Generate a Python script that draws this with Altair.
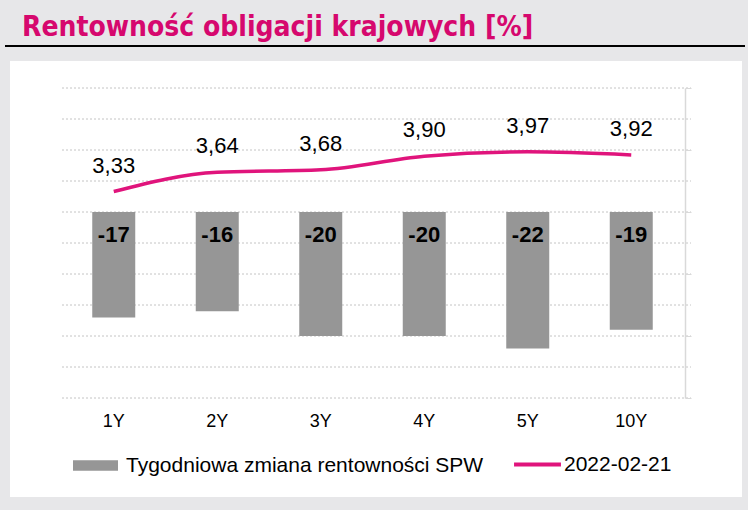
import altair as alt
import pandas as pd

# ---- data ----
categories = ["1Y", "2Y", "3Y", "4Y", "5Y", "10Y"]
weekly_change = [-17, -16, -20, -20, -22, -19]
yields = [3.33, 3.64, 3.68, 3.90, 3.97, 3.92]
bar_series = "Tygodniowa zmiana rentowności SPW"
line_series = "2022-02-21"
title_text = "Rentowność obligacji krajowych [%]"
bar_grid_values = [-30, -25, -20, -15, -10, -5, 0, 5, 10, 15, 20]
line_tick_values = [0, 0.5, 1, 1.5, 2, 2.5, 3, 3.5, 4, 4.5, 5]

df = pd.DataFrame({
    "cat": categories,
    "change": weekly_change,
    "yield": yields,
    "bar_s": [bar_series] * len(categories),
    "line_s": [line_series] * len(categories),
})
grid_df = pd.DataFrame({"g": bar_grid_values})

FONT = "Liberation Sans"
GREY = "#969696"
MAGENTA = "#e0147c"
TITLE_C = "#d6086e"

x_enc = alt.X(
    "cat:N", sort=categories,
    scale=alt.Scale(paddingInner=0, paddingOuter=0),
    axis=alt.Axis(title=None, labelAngle=0, domain=False, ticks=False,
                  labelFontSize=18, labelFont=FONT, labelColor="#000000",
                  labelPadding=14, zindex=1),
)

bar_scale = alt.Scale(domain=[-30, 20], nice=False, zero=False)

grid = alt.Chart(grid_df).mark_rule(
    color="#c4c4c4", strokeWidth=1, strokeDash=[2, 2]
).encode(
    y=alt.Y("g:Q", scale=bar_scale, axis=None),
    x=alt.value(0), x2=alt.value(629),
)
bars = alt.Chart(df).mark_bar(size=43).encode(
    x=x_enc,
    y=alt.Y("change:Q", scale=bar_scale, axis=None),
    color=alt.Color("bar_s:N",
                    scale=alt.Scale(domain=[bar_series], range=[GREY]),
                    legend=alt.Legend(orient="none", legendX=11, legendY=355,
                                      title=None, padding=0,
                                      symbolType="M-1,-0.233H1V0.233H-1Z",
                                      symbolSize=2025, symbolStrokeWidth=0,
                                      labelFontSize=21, labelFont=FONT,
                                      labelColor="#000000", labelOffset=8,
                                      labelLimit=0)),
)
bar_text = alt.Chart(df).transform_calculate(
    lab="toString(datum.change)"
).mark_text(
    dy=23, fontSize=22, fontWeight="bold", font=FONT, color="#000000"
).encode(
    x=alt.X("cat:N", sort=categories),
    y=alt.datum(0),
    text=alt.Text("lab:N"),
)
bar_layer = alt.layer(grid, bars, bar_text)

line_scale = alt.Scale(domain=[0, 5], nice=False, zero=False)
line = alt.Chart(df).mark_line(strokeWidth=3.5, interpolate="monotone").encode(
    x=alt.X("cat:N", sort=categories),
    y=alt.Y("yield:Q", scale=line_scale,
            axis=alt.Axis(orient="right", grid=False, labels=False,
                          ticks=True, tickSize=6, tickColor="#d9d9d9",
                          domainColor="#d9d9d9", domainWidth=1.5,
                          values=line_tick_values,
                          title=None, offset=2, zindex=1)),
    stroke=alt.Stroke("line_s:N",
                      scale=alt.Scale(domain=[line_series], range=[MAGENTA]),
                      legend=alt.Legend(orient="none", legendX=450, legendY=351,
                                        title=None, padding=0,
                                        symbolType="stroke", symbolSize=2200,
                                        symbolStrokeWidth=4,
                                        labelFontSize=21, labelFont=FONT,
                                        labelColor="#000000", labelOffset=1,
                                        labelLimit=0)),
)
line_text = alt.Chart(df).transform_calculate(
    lab="replace(format(datum.yield, '.2f'), '.', ',')"
).mark_text(dy=-26, fontSize=22, font=FONT, color="#000000").encode(
    x=alt.X("cat:N", sort=categories),
    y=alt.Y("yield:Q"),
    text=alt.Text("lab:N"),
)
line_layer = alt.layer(line, line_text)

one = pd.DataFrame({"a": [0]})
white_box = alt.Chart(one).mark_rect(color="white").encode(
    x=alt.value(-52), x2=alt.value(680), y=alt.value(-27), y2=alt.value(409)
)
title_rule = alt.Chart(one).mark_rule(color="#000000", strokeWidth=2).encode(
    x=alt.value(-57), x2=alt.value(683), y=alt.value(-42)
)
title_mark = alt.Chart(one).mark_text(
    text=title_text, align="left", baseline="alphabetic", fontSize=28,
    fontWeight="bold", font="DejaVu Sans Condensed, Liberation Sans Narrow, Roboto, sans-serif",
    color=TITLE_C
).encode(x=alt.value(-40), y=alt.value(-52))

chart = alt.layer(white_box, title_rule, title_mark, bar_layer, line_layer).resolve_scale(
    y="independent"
).properties(
    width=621, height=310, autosize="none",
    padding={"left": 62, "top": 88, "right": 65, "bottom": 112},
    background="#e7e7e9",
).configure_view(stroke=None)

chart.save("out.html", embed_options={"renderer": "svg", "actions": False})
